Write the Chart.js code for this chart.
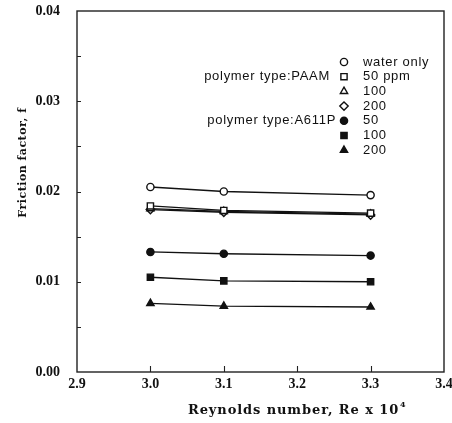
<!DOCTYPE html>
<html>
<head>
<meta charset="utf-8">
<script src="https://cdn.jsdelivr.net/npm/chart.js@4/dist/chart.umd.min.js"></script>
<style>
  html, body { margin: 0; padding: 0; background: #fff; }
  #wrap { width: 452px; height: 423px; }
</style>
</head>
<body>
<div id="wrap"><canvas id="chartFriccion"></canvas></div>
<script>
// Reynolds number (x 10^4) at which each friction factor was measured
const reynolds = [3.0, 3.1, 3.3];

const waterOnly = [0.0205, 0.0200, 0.0196];
const paam50 = [0.0184, 0.0179, 0.0176];
const paam100 = [0.0181, 0.0178, 0.0175];
const paam200 = [0.0180, 0.0177, 0.0174];
const a611p50 = [0.0133, 0.0131, 0.0129];
const a611p100 = [0.0105, 0.0101, 0.0100];
const a611p200 = [0.0076, 0.0073, 0.0072];

const legendLabels = ['water only', '50 ppm', '100', '200', '50', '100', '200'];
const groupLabels = ['polymer type:PAAM', 'polymer type:A611P'];

const xTicks = [2.9, 3.0, 3.1, 3.2, 3.3, 3.4];
const yTicks = [0.00, 0.01, 0.02, 0.03, 0.04];

const toPoints = (vals) => vals.map((v, i) => ({ x: reynolds[i], y: v }));

const serie = (label, vals, style, filled, radius) => ({
  label,
  data: toPoints(vals),
  borderColor: '#111',
  borderWidth: 1.3,
  pointStyle: style,
  pointRadius: radius,
  pointBorderWidth: 1.4,
  pointBackgroundColor: filled ? '#111' : '#fff',
  pointBorderColor: '#111',
  fill: false,
  tension: 0,
});

const datasets = [
  serie(legendLabels[0], waterOnly, 'circle', false, 3.6),
  serie(legendLabels[1], paam50, 'rect', false, 4.4),
  serie(legendLabels[2], paam100, 'triangle', false, 4.2),
  serie(legendLabels[3], paam200, 'rectRot', false, 4.2),
  serie(legendLabels[4], a611p50, 'circle', true, 3.6),
  serie(legendLabels[5], a611p100, 'rect', true, 4.4),
  serie(legendLabels[6], a611p200, 'triangle', true, 4.2),
];

// box around the plot plus inward tick marks
const marco = {
  id: 'marco',
  afterDatasetsDraw(chart) {
    const { ctx, chartArea: a, scales } = chart;
    ctx.save();
    ctx.strokeStyle = '#222';
    ctx.lineWidth = 1.4;
    ctx.strokeRect(a.left, a.top, a.right - a.left, a.bottom - a.top);
    ctx.lineWidth = 1.1;
    ctx.beginPath();
    for (let v = 0.005; v < 0.04; v += 0.005) {
      const y = Math.round(scales.y.getPixelForValue(v)) + 0.5;
      ctx.moveTo(a.left, y);
      ctx.lineTo(a.left + 4, y);
    }
    xTicks.slice(1, -1).forEach((v) => {
      const x = Math.round(scales.x.getPixelForValue(v)) + 0.5;
      ctx.moveTo(x, a.bottom);
      ctx.lineTo(x, a.bottom - 6);
    });
    ctx.stroke();
    ctx.restore();
  },
};

// axis titles
const titulos = {
  id: 'titulos',
  afterDraw(chart) {
    const { ctx, chartArea: a } = chart;
    ctx.save();
    ctx.fillStyle = '#111';
    ctx.textBaseline = 'middle';

    // y title, rotated
    ctx.save();
    ctx.font = 'bold 11px "DejaVu Serif"';
    ctx.letterSpacing = '0.5px';
    ctx.translate(23, a.top + (a.bottom - a.top) * 0.42);
    ctx.rotate(-Math.PI / 2);
    ctx.textAlign = 'center';
    ctx.fillText('Friction factor, f', 0, 0);
    ctx.restore();

    // x title with superscript exponent
    ctx.font = 'bold 13px "DejaVu Serif"';
    ctx.letterSpacing = '0.9px';
    const base = 'Reynolds number, Re x 10';
    const wBase = ctx.measureText(base).width;
    const cx = a.left + (a.right - a.left) * 0.59;
    const y = a.bottom + 39;
    ctx.textAlign = 'left';
    ctx.fillText(base, cx - wBase / 2, y);
    ctx.font = 'bold 8px "DejaVu Serif"';
    ctx.fillText('4', cx + wBase / 2 + 1, y - 6);
    ctx.restore();
  },
};

// legend drawn as two blocks with the polymer type beside the first entry of each
const leyenda = {
  id: 'leyenda',
  afterDraw(chart) {
    const { ctx } = chart;
    const symX = 344;
    const textX = 363;
    const y0 = 62;
    const paso = 14.7;
    ctx.save();
    ctx.fillStyle = '#111';
    ctx.font = '13px "Liberation Sans"';
    ctx.letterSpacing = '0.7px';
    ctx.textBaseline = 'middle';
    chart.data.datasets.forEach((ds, i) => {
      const y = y0 + i * paso;
      ctx.save();
      ctx.fillStyle = ds.pointBackgroundColor;
      ctx.strokeStyle = '#111';
      ctx.lineWidth = 1.4;
      Chart.helpers.drawPoint(ctx, {
        pointStyle: ds.pointStyle,
        radius: ds.pointRadius,
        borderWidth: 1.4,
        rotation: 0,
      }, symX, y);
      ctx.restore();
      ctx.textAlign = 'left';
      ctx.fillText(ds.label, textX, y);
    });
    ctx.textAlign = 'right';
    ctx.fillText(groupLabels[0], 330, y0 + paso);
    ctx.fillText(groupLabels[1], 336, y0 + 4 * paso);
    ctx.restore();
  },
};

const tickFont = { family: '"Liberation Serif"', size: 14, weight: 'bold' };

new Chart(document.getElementById('chartFriccion'), {
  type: 'line',
  data: { datasets },
  options: {
    responsive: true,
    maintainAspectRatio: false,
    animation: false,
    layout: { padding: { top: 11, right: 8, left: 0, bottom: 0 } },
    scales: {
      x: {
        type: 'linear',
        min: xTicks[0],
        max: xTicks[xTicks.length - 1],
        afterFit: (s) => {
          s.height = 51;
          s.paddingLeft = 0;
          s.paddingRight = 0;
        },
        afterBuildTicks: (s) => { s.ticks = xTicks.map((v) => ({ value: v })); },
        grid: { display: false, drawTicks: false },
        border: { display: false },
        ticks: {
          color: '#111',
          padding: 4,
          maxRotation: 0,
          autoSkip: false,
          font: tickFont,
          callback: (v) => Number(v).toFixed(1),
        },
      },
      y: {
        min: yTicks[0],
        max: yTicks[yTicks.length - 1],
        afterFit: (s) => {
          s.width = 77;
          s.paddingTop = 0;
          s.paddingBottom = 0;
        },
        afterBuildTicks: (s) => { s.ticks = yTicks.map((v) => ({ value: v })); },
        grid: { display: false, drawTicks: false },
        border: { display: false },
        ticks: {
          color: '#111',
          padding: 17,
          autoSkip: false,
          font: tickFont,
          callback: (v) => Number(v).toFixed(2),
        },
      },
    },
    plugins: {
      legend: { display: false },
      tooltip: { enabled: false },
    },
  },
  plugins: [marco, titulos, leyenda],
});
</script>
</body>
</html>
